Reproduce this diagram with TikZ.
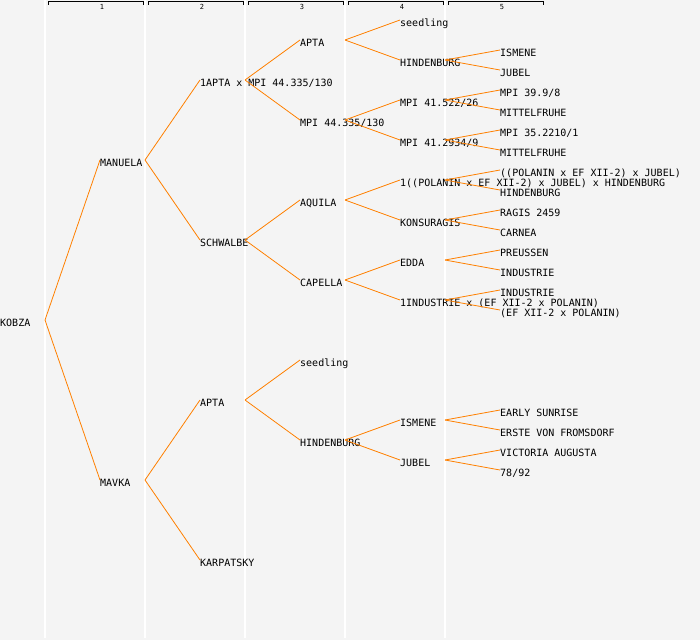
\documentclass[tikz,border=0pt]{standalone}
\usepackage{fontspec}
\setmonofont{DejaVu Sans Mono}
\usepackage[HTML]{xcolor}
\usepackage{tikz}

\definecolor{bgGrey}{HTML}{F4F4F4}
\definecolor{linkOrange}{HTML}{FF8000}

\begin{document}
\begin{tikzpicture}[
    x=1pt, y=-1pt,
    every node/.style={font=\ttfamily\fontsize{10}{12}\selectfont},
    entry/.style={anchor=west, inner sep=0pt, text height=12pt, text depth=0pt},
    colnum/.style={font=\ttfamily\fontsize{7}{8}\selectfont, inner sep=0pt},
    link/.style={draw=linkOrange, line width=0.8pt},
    guide/.style={draw=white, line width=1.5pt}
]
    % Background and column guides
    \fill[bgGrey] (0,0) rectangle (700,640);
    \useasboundingbox (0,0) rectangle (700,640);
    \foreach \c in {0,...,4}
        \draw[guide] ({45+100*\c},0) -- ({45+100*\c},638);

    % Column headers
    \foreach \c in {1,...,5} {
        \draw[line width=0.8pt] ({48+100*(\c-1)},4.5) -- ++(0,-3) -- ++(95,0) -- ++(0,3);
        \node[colnum] (head\c) at ({102+100*(\c-1)},7) {\c};
    }

    % Define nodes
    \node[entry] (kobza) at (0,320) {KOBZA};

    \node[entry] (manuela) at (100,160) {MANUELA};
    \node[entry] (mavka) at (100,480) {MAVKA};

    \node[entry] (aptaxmpi) at (200,80) {1APTA x MPI 44.335/130};
    \node[entry] (schwalbe) at (200,240) {SCHWALBE};
    \node[entry] (aptaB) at (200,400) {APTA};
    \node[entry] (karpatsky) at (200,560) {KARPATSKY};

    \node[entry] (aptaC) at (300,40) {APTA};
    \node[entry] (mpi44) at (300,120) {MPI 44.335/130};
    \node[entry] (aquila) at (300,200) {AQUILA};
    \node[entry] (capella) at (300,280) {CAPELLA};
    \node[entry] (seedC) at (300,360) {seedling};
    \node[entry] (hindC) at (300,440) {HINDENBURG};

    \node[entry] (seedD) at (400,20) {seedling};
    \node[entry] (hindD) at (400,60) {HINDENBURG};
    \node[entry] (mpi41a) at (400,100) {MPI 41.522/26};
    \node[entry] (mpi41b) at (400,140) {MPI 41.2934/9};
    \node[entry] (polxhind) at (400,180) {1((POLANIN x EF XII-2) x JUBEL) x HINDENBURG};
    \node[entry] (konsuragis) at (400,220) {KONSURAGIS};
    \node[entry] (edda) at (400,260) {EDDA};
    \node[entry] (indxef) at (400,300) {1INDUSTRIE x (EF XII-2 x POLANIN)};
    \node[entry] (ismeneD) at (400,420) {ISMENE};
    \node[entry] (jubelD) at (400,460) {JUBEL};

    \node[entry] (ismeneE) at (500,50) {ISMENE};
    \node[entry] (jubelE) at (500,70) {JUBEL};
    \node[entry] (mpi39) at (500,90) {MPI 39.9/8};
    \node[entry] (mittelA) at (500,110) {MITTELFRUHE};
    \node[entry] (mpi35) at (500,130) {MPI 35.2210/1};
    \node[entry] (mittelB) at (500,150) {MITTELFRUHE};
    \node[entry] (poljubel) at (500,170) {((POLANIN x EF XII-2) x JUBEL)};
    \node[entry] (hindE) at (500,190) {HINDENBURG};
    \node[entry] (ragis) at (500,210) {RAGIS 2459};
    \node[entry] (carnea) at (500,230) {CARNEA};
    \node[entry] (preussen) at (500,250) {PREUSSEN};
    \node[entry] (industrieA) at (500,270) {INDUSTRIE};
    \node[entry] (industrieB) at (500,290) {INDUSTRIE};
    \node[entry] (efpol) at (500,310) {(EF XII-2 x POLANIN)};
    \node[entry] (early) at (500,410) {EARLY SUNRISE};
    \node[entry] (erste) at (500,430) {ERSTE VON FROMSDORF};
    \node[entry] (victoria) at (500,450) {VICTORIA AUGUSTA};
    \node[entry] (sevEight) at (500,470) {78/92};

    % Draw links (parent fork -> child)
    \foreach \p/\k in {kobza/manuela, kobza/mavka,
                       manuela/aptaxmpi, manuela/schwalbe, mavka/aptaB, mavka/karpatsky,
                       aptaxmpi/aptaC, aptaxmpi/mpi44, schwalbe/aquila, schwalbe/capella,
                       aptaB/seedC, aptaB/hindC,
                       aptaC/seedD, aptaC/hindD, mpi44/mpi41a, mpi44/mpi41b,
                       aquila/polxhind, aquila/konsuragis, capella/edda, capella/indxef,
                       hindC/ismeneD, hindC/jubelD,
                       hindD/ismeneE, hindD/jubelE, mpi41a/mpi39, mpi41a/mittelA,
                       mpi41b/mpi35, mpi41b/mittelB, polxhind/poljubel, polxhind/hindE,
                       konsuragis/ragis, konsuragis/carnea, edda/preussen, edda/industrieA,
                       indxef/industrieB, indxef/efpol, ismeneD/early, ismeneD/erste,
                       jubelD/victoria, jubelD/sevEight}
        \draw[link] ([xshift=45pt]\p.west) -- (\k.west);
\end{tikzpicture}
\end{document}
